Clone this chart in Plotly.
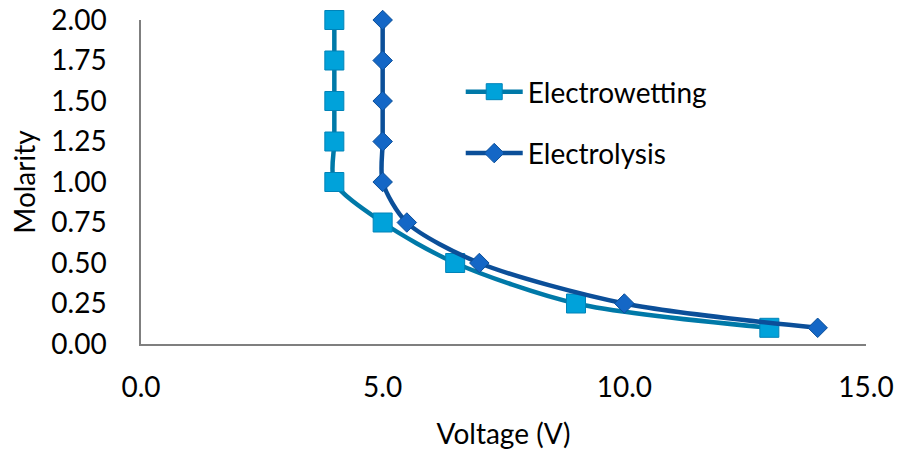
import plotly.graph_objects as go

# Voltage (V) and molarity for each measurement series
ew_voltage = [4.0, 4.0, 4.0, 4.0, 4.0, 5.0, 6.5, 9.0, 13.0]
ew_molarity = [2.00, 1.75, 1.50, 1.25, 1.00, 0.75, 0.50, 0.25, 0.10]

el_voltage = [5.0, 5.0, 5.0, 5.0, 5.0, 5.5, 7.0, 10.0, 14.0]
el_molarity = [2.00, 1.75, 1.50, 1.25, 1.00, 0.75, 0.50, 0.25, 0.10]

x_ticks = [0, 5, 10, 15]
y_ticks = [0, 0.25, 0.5, 0.75, 1.0, 1.25, 1.5, 1.75, 2.0]

FONT = "Lato"
FS = 28

fig = go.Figure()

fig.add_trace(go.Scatter(
    x=ew_voltage, y=ew_molarity, name="Electrowetting",
    mode="lines+markers", legendgroup="a", cliponaxis=False,
    line=dict(color="#0079A8", width=4.5, shape="spline", smoothing=0.8),
    marker=dict(symbol="square", size=19, color="#00A2DA",
                line=dict(color="#0083B8", width=1)),
))

fig.add_trace(go.Scatter(
    x=el_voltage, y=el_molarity, name="Electrolysis",
    mode="lines+markers", legendgroup="b", cliponaxis=False,
    line=dict(color="#0B4F99", width=4.5, shape="spline", smoothing=0.8),
    marker=dict(symbol="diamond", size=15, color="#1467C6",
                line=dict(color="#0B4F99", width=1)),
))

fig.update_layout(
    width=909, height=450,
    margin=dict(l=141, r=43, t=20, b=106),
    paper_bgcolor="white", plot_bgcolor="white",
    font=dict(family=FONT, size=FS, color="black"),
    showlegend=True,
    legend=dict(x=0.441, y=0.855, xanchor="left", yanchor="top",
                bgcolor="rgba(0,0,0,0)", tracegroupgap=22,
                font=dict(family=FONT, size=FS, color="black"),
                itemwidth=57),
    xaxis=dict(range=[0, 15], tickvals=x_ticks, tickformat=".1f",
               showgrid=False, zeroline=False, showline=True,
               linecolor="#7F7F7F", linewidth=1.5, ticks="",
               ticklabelstandoff=18, automargin=False,
               title=dict(text="Voltage (V)", standoff=32,
                          font=dict(family=FONT, size=FS))),
    yaxis=dict(range=[0, 2.0], tickvals=y_ticks, tickformat=".2f",
               showgrid=False, zeroline=False, showline=True,
               linecolor="#7F7F7F", linewidth=1.5,
               ticks="outside", ticklen=27, tickcolor="rgba(0,0,0,0)",
               automargin=False,
               title=dict(text="Molarity", standoff=8,
                          font=dict(family=FONT, size=FS))),
)

fig.write_html("out.html")
